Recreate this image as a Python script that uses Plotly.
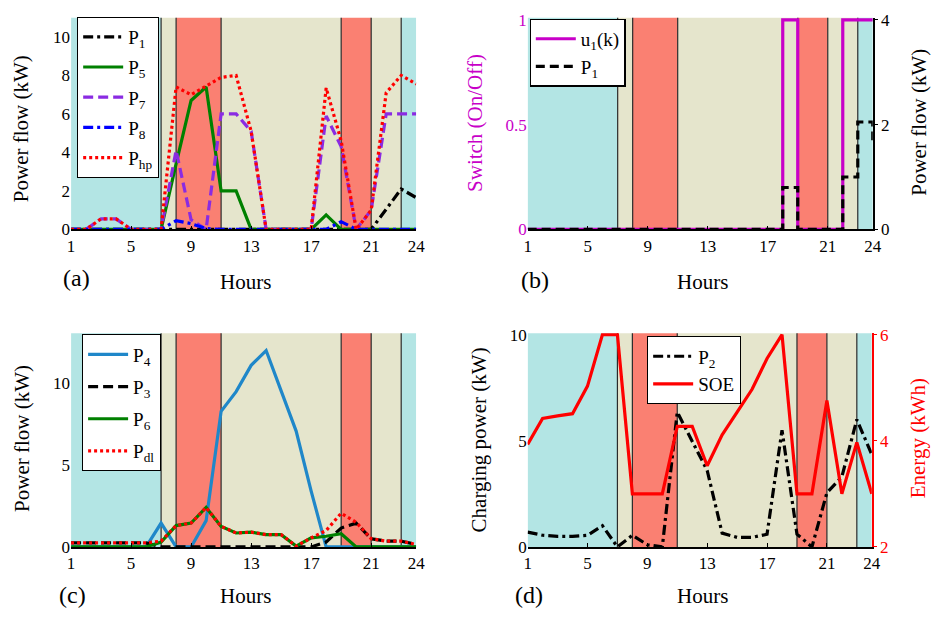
import plotly.graph_objects as go

# ---------------- data ----------------
hours = list(range(1, 25))
xtick_vals = [1, 5, 9, 13, 17, 21, 24]

# panel (a)
P1_a = [0, 0, 0, 0, 0, 0, 0, 0, 0, 0, 0, 0, 0, 0, 0, 0, 0, 0, 0, 0, 0, 1.05, 2.1, 1.65]
P5 = [0, 0, 0, 0, 0, 0, 0, 3.4, 6.7, 7.4, 2.0, 2.0, 0, 0, 0, 0, 0, 0.75, 0, 0, 0, 0, 0, 0]
P7 = [0, 0, 0.55, 0.55, 0, 0, 0, 4.1, 0.5, 0, 6.0, 6.0, 5.1, 0, 0, 0, 0, 5.9, 4.3, 0, 1.0, 6.0, 6.0, 6.0]
P8 = [0, 0, 0, 0, 0, 0, 0, 0.45, 0.3, 0.05, 0, 0, 0, 0, 0, 0, 0, 0, 0.4, 0, 0, 0, 0, 0]
Php = [0, 0, 0.55, 0.55, 0, 0, 0, 7.4, 7.0, 7.45, 7.9, 8.0, 5.1, 0, 0, 0, 0, 7.35, 4.6, 0, 1.0, 7.1, 8.0, 7.55]

# panel (b)
u1 = [0, 0, 0, 0, 0, 0, 0, 0, 0, 0, 0, 0, 0, 0, 0, 0, 0, 1, 0, 0, 0, 1, 1, 1]
P1_b = [0, 0, 0, 0, 0, 0, 0, 0, 0, 0, 0, 0, 0, 0, 0, 0, 0, 0.8, 0, 0, 0, 1.0, 2.05, 1.7]

# panel (c)
P4 = [0, 0, 0, 0, 0, 0, 1.45, 0, 0, 1.6, 8.25, 9.45, 11.05, 11.95, 9.5, 7.05, 3.4, 0, 0, 0, 0, 0, 0, 0]
P3 = [0.25, 0.25, 0.25, 0.25, 0.25, 0.25, 0, 0, 0, 0, 0, 0, 0, 0, 0, 0, 0, 0.3, 1.15, 1.45, 0.5, 0.35, 0.35, 0.15]
P6 = [0, 0, 0, 0, 0, 0, 0.3, 1.3, 1.45, 2.4, 1.25, 0.85, 0.9, 0.75, 0.75, 0.05, 0.55, 0.65, 0.8, 0, 0, 0, 0, 0]
Pdl = [0.25, 0.25, 0.25, 0.25, 0.25, 0.25, 0.35, 1.3, 1.45, 2.4, 1.25, 0.85, 0.9, 0.75, 0.75, 0.05, 0.55, 1.0, 2.05, 1.5, 0.5, 0.35, 0.35, 0.15]

# panel (d)
P2 = [0.7, 0.55, 0.5, 0.5, 0.55, 1.0, 0.0, 0.55, 0.1, 0.0, 6.35, 5.0, 3.6, 0.65, 0.45, 0.45, 0.6, 5.5, 0.6, 0.0, 2.55, 3.3, 6.0, 4.35]
SOE = [3.93, 4.42, 4.47, 4.51, 5.03, 6.0, 6.0, 3.0, 3.0, 3.0, 4.27, 4.27, 3.53, 4.11, 4.54, 4.97, 5.55, 6.0, 3.0, 3.0, 4.76, 3.0, 3.97, 3.0]

# tariff periods (start, end, kind)
periods = [(1, 7, "off"), (7, 8, "mid"), (8, 11, "peak"), (11, 19, "mid"),
           (19, 21, "peak"), (21, 23, "mid"), (23, 24, "off")]
boundaries = [7, 8, 11, 19, 21, 23]

# ---------------- style ----------------
W, H = 937, 622
FONT = "Liberation Serif, Times New Roman, serif"
band_col = {"off": "#b3e5e4", "mid": "#e5e5cc", "peak": "#fa8072"}
MAG = "#c800c8"
LW = 3.2


def fx(px):
    return px / W


def fy(py):
    return 1 - py / H


# plot areas in pixels: (left, right, top, bottom)
areas = {
    1: (68, 418, 10, 228),
    2: (531, 881, 10, 228),
    3: (68, 418, 335, 555),
    4: (531, 880, 335, 555),
}

fig = go.Figure()
DASHDOT = "10px,4px,3px,4px"


def add(y, name, xa, ya, leg, color, dash="solid", shape="linear"):
    fig.add_trace(go.Scatter(x=hours, y=y, name=name, xaxis=xa, yaxis=ya, legend=leg,
                             legendgroup=leg + name,
                             line=dict(color=color, width=LW, dash=dash, shape=shape)))


# (a)
add(P1_a, "P<sub>1</sub>", "x", "y", "legend", "black", DASHDOT)
add(P5, "P<sub>5</sub>", "x", "y", "legend", "#008000")
add(P7, "P<sub>7</sub>", "x", "y", "legend", "#8a2be2", "10px,5px")
add(P8, "P<sub>8</sub>", "x", "y", "legend", "#0000ff", DASHDOT)
add(Php, "P<sub>hp</sub>", "x", "y", "legend", "#ff0000", "3px,3px")
# (b)
add(u1, "u<sub>1</sub>(k)", "x2", "y2", "legend2", MAG, "solid", "hv")
add(P1_b, "P<sub>1</sub>", "x2", "y6", "legend2", "black", "9px,5px", "hv")
# (c)
add(P4, "P<sub>4</sub>", "x3", "y3", "legend3", "#1f87c9")
add(P3, "P<sub>3</sub>", "x3", "y3", "legend3", "black", "10px,5px")
add(P6, "P<sub>6</sub>", "x3", "y3", "legend3", "#008000")
add(Pdl, "P<sub>dl</sub>", "x3", "y3", "legend3", "#ff0000", "3px,3px")
# (d)
add(P2, "P<sub>2</sub>", "x4", "y4", "legend4", "black", DASHDOT)
add(SOE, "SOE", "x4", "y8", "legend4", "#ff0000")

# ---------- axes ----------
tickfont = dict(family=FONT, size=17, color="black")
layout = {}
y_ranges = {1: [0, 11], 2: [0, 1.01], 3: [0, 13], 4: [0, 10.06]}
y_ticks = {1: [0, 2, 4, 6, 8, 10], 2: [0, 0.5, 1], 3: [0, 5, 10], 4: [0, 5, 10]}
y_text = {2: ["0", "0.5", "1"]}
right_ranges = {5: [0, 11], 6: [0, 4.04], 7: [0, 13], 8: [2, 6.024]}
right_ticks = {5: [0, 2, 4, 6, 8, 10], 6: [0, 2, 4], 7: [0, 5, 10], 8: [2, 4, 6]}

for i in range(1, 5):
    l, r, t, b = areas[i]
    xs = "" if i == 1 else str(i)
    layout["xaxis" + xs] = dict(
        domain=[fx(l), fx(r)], anchor="y" + xs, range=[1, 24],
        tickvals=xtick_vals, ticks="inside", ticklen=4, tickcolor="black",
        showline=True, linecolor="black", linewidth=1.5, showgrid=False, zeroline=False,
        tickfont=tickfont,
    )
    ycol = MAG if i == 2 else "black"
    layout["yaxis" + xs] = dict(
        domain=[fy(b), fy(t)], anchor="x" + xs, range=y_ranges[i],
        tickvals=y_ticks[i], ticks="", showline=False, showgrid=False, zeroline=False,
        tickfont=dict(family=FONT, size=17, color=ycol),
    )
    if i in y_text:
        layout["yaxis" + xs]["ticktext"] = y_text[i]
    k = i + 4
    rcol = {5: "#444444", 6: "black", 7: "#444444", 8: "#ff0000"}[k]
    layout["yaxis" + str(k)] = dict(
        overlaying="y" + xs, anchor="x" + xs, side="right", range=right_ranges[k],
        tickvals=right_ticks[k], ticks="outside", ticklen=3, tickcolor=rcol,
        showline=True, linecolor=rcol, linewidth=1.5, showgrid=False, zeroline=False,
        showticklabels=k in (6, 8),
        tickfont=dict(family=FONT, size=17, color="#ff0000" if k == 8 else "black"),
    )

# ---------- background bands & boundary lines ----------
shapes = []
for i in range(1, 5):
    xs = "" if i == 1 else str(i)
    for (s, e, kind) in periods:
        shapes.append(dict(type="rect", xref="x" + xs, yref="y" + xs + " domain",
                           x0=s, x1=e, y0=0, y1=1, fillcolor=band_col[kind],
                           line=dict(width=0), layer="below"))
    for bx in boundaries:
        shapes.append(dict(type="line", xref="x" + xs, yref="y" + xs + " domain",
                           x0=bx, x1=bx, y0=0, y1=1, line=dict(color="#2a2a2a", width=1.2),
                           layer="below"))

# ---------- annotations ----------
ann = []


def add_text(text, px, py, angle=0, color="black", size=21):
    ann.append(dict(text=text, x=fx(px), y=fy(py), xref="paper", yref="paper",
                    showarrow=False, textangle=angle, xanchor="center", yanchor="middle",
                    font=dict(family=FONT, size=size, color=color)))


add_text("Hours", 245, 282)
add_text("Hours", 708, 282)
add_text("Hours", 245, 606)
add_text("Hours", 708, 606)
add_text("(a)", 74, 278, size=24)
add_text("(b)", 538, 280, size=24)
add_text("(c)", 69, 604, size=24)
add_text("(d)", 532, 605, size=24)
add_text("Power flow (kW)", 18, 124, angle=-90)
add_text("Switch (On/Off)", 477, 118, angle=-90, color=MAG)
add_text("Power flow (kW)", 927, 118, angle=-90)
add_text("Power flow (kW)", 18, 443, angle=-90)
add_text("Charging power (kW)", 482, 445, angle=-90)
add_text("Energy (kWh)", 927, 443, angle=-90, color="#ff0000")

legfont = dict(family=FONT, size=19, color="black")
legbase = dict(bgcolor="white", bordercolor="black", borderwidth=1.2, font=legfont,
               xanchor="left", yanchor="top", xref="paper", yref="paper",
               itemwidth=40)

fig.update_layout(
    width=W, height=H, margin=dict(l=0, r=0, t=0, b=0),
    paper_bgcolor="white", plot_bgcolor="white",
    showlegend=True,
    legend=dict(legbase, x=fx(74), y=fy(9), tracegroupgap=2.5),
    legend2=dict(legbase, x=fx(533), y=fy(11), tracegroupgap=0),
    legend3=dict(legbase, x=fx(79), y=fy(336), tracegroupgap=4.5),
    legend4=dict(legbase, x=fx(652), y=fy(338), tracegroupgap=0),
    shapes=shapes, annotations=ann,
    font=dict(family=FONT, size=17, color="black"),
    **layout,
)

fig.write_html("out.html")
